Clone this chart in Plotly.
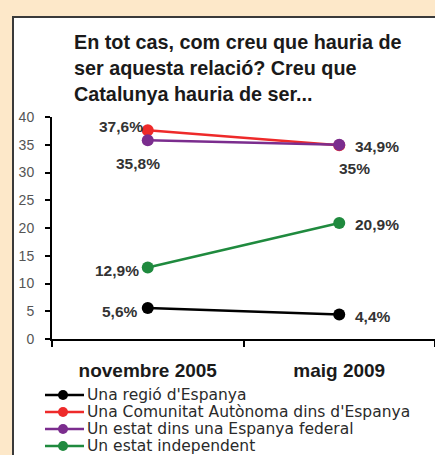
import plotly.graph_objects as go

# ---- data ----
periods = ["novembre 2005", "maig 2009"]
series_names = [
    "Una regió d'Espanya",
    "Una Comunitat Autònoma dins d'Espanya",
    "Un estat dins una Espanya federal",
    "Un estat independent",
]
regio = [5.6, 4.4]
comunitat = [37.6, 34.9]
federal = [35.8, 35.0]
independent = [12.9, 20.9]
title_lines = [
    "En tot cas, com creu que hauria de",
    "ser aquesta relació? Creu que",
    "Catalunya hauria de ser...",
]
y_ticks = [0, 5, 10, 15, 20, 25, 30, 35, 40]

# ---- styles ----
W, H = 435, 455
ML, MR, MT, MB = 52, 0, 117, 116
PW, PH = W - ML - MR, H - MT - MB
FONT = "Liberation Sans, Arial, sans-serif"
LEG_FONT = "DejaVu Sans, Liberation Sans, sans-serif"
colors = ["#000000", "#ee2a2a", "#7b2d8e", "#1f8a3e"]
# label placement per series per point: (xanchor, xshift, yshift)
label_pos = [
    [("right", -10, -4), ("left", 16, -2)],
    [("right", -5, 4), ("left", 16, -1)],
    [("center", -10, -23), ("center", 15, -24)],
    [("right", -9, -3), ("left", 16, -1)],
]


def px(x):
    return (x - ML) / PW


def py(y):
    return (H - MB - y) / PH


def fmt(v):
    return f"{v:g}".replace(".", ",") + "%"


all_series = [regio, comunitat, federal, independent]

fig = go.Figure()
for name, vals, col in zip(series_names, all_series, colors):
    fig.add_trace(go.Scatter(
        x=periods, y=vals, name=name, mode="lines+markers",
        line=dict(color=col, width=2.5),
        marker=dict(color=col, size=12),
        showlegend=False, cliponaxis=False,
    ))

annotations = []
# data labels
for vals, pos in zip(all_series, label_pos):
    for xi, (v, (anc, xs, ys)) in enumerate(zip(vals, pos)):
        annotations.append(dict(
            x=periods[xi], y=v, xref="x", yref="y", text="<b>" + fmt(v) + "</b>",
            showarrow=False, xanchor=anc, yanchor="middle", xshift=xs, yshift=ys,
            font=dict(family=FONT, size=15.5, color="#333333"),
            borderpad=0, borderwidth=0,
        ))
# title
for i, line in enumerate(title_lines):
    annotations.append(dict(
        x=px(73), y=py(42 + i * 26), xref="paper", yref="paper",
        text="<b>" + line + "</b>", showarrow=False, xanchor="left", yanchor="middle",
        font=dict(family=FONT, size=19.8, color="#1a1a1a"), borderpad=0,
    ))

shapes = [
    dict(type="rect", xref="paper", yref="paper", x0=px(13), x1=px(440), y0=py(17), y1=py(470),
         fillcolor="white", line=dict(color="#3a3a3a", width=2), layer="below"),
]
# manual legend
leg_y = [395, 412, 429, 446]
for name, col, yy in zip(series_names, colors, leg_y):
    shapes.append(dict(type="line", xref="paper", yref="paper", x0=px(45), x1=px(84),
                       y0=py(yy), y1=py(yy), line=dict(color=col, width=2.5)))
    shapes.append(dict(type="circle", xref="paper", yref="paper", x0=px(58), x1=px(68),
                       y0=py(yy - 5), y1=py(yy + 5), fillcolor=col, line=dict(color=col, width=0)))
    annotations.append(dict(
        x=px(86), y=py(yy), xref="paper", yref="paper", text=name, showarrow=False,
        xanchor="left", yanchor="middle", font=dict(family=LEG_FONT, size=15.5, color="#2a2a2a"),
        borderpad=0,
    ))

fig.update_layout(
    width=W, height=H, autosize=False,
    margin=dict(l=ML, r=MR, t=MT, b=MB, pad=0),
    paper_bgcolor="#fde8c9", plot_bgcolor="white",
    showlegend=False,
    annotations=annotations, shapes=shapes,
    xaxis=dict(
        type="category", range=[-0.5, 1.5], showline=True, linecolor="black", linewidth=2,
        ticks="outside", tickson="boundaries", ticklen=6, tickwidth=1.5, tickcolor="black",
        showgrid=False, zeroline=False, ticklabelstandoff=13,
        tickfont=dict(family=FONT, size=19, color="#1a1a1a", weight="bold"),
    ),
    yaxis=dict(
        range=[0, 40], tickvals=y_ticks, showline=True, linecolor="black", linewidth=2,
        ticks="outside", ticklen=5, tickwidth=1.5, tickcolor="black",
        showgrid=False, zeroline=False, ticklabelstandoff=8,
        tickfont=dict(family=FONT, size=14, color="#555555"),
    ),
)

fig.write_html(
    "out.html",
    config={"displayModeBar": False},
    post_script="document.body.style.margin='0';document.body.style.overflow='hidden';",
)
